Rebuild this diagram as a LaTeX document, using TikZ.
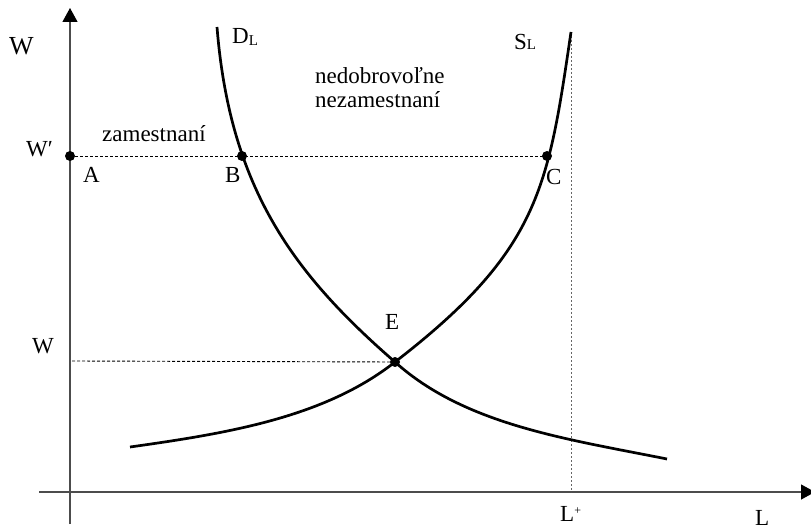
\documentclass[tikz,border=0pt]{standalone}
\usepackage{fontspec}
\setmainfont{Liberation Serif}
\usetikzlibrary{arrows.meta}
\begin{document}
\begin{tikzpicture}[x=1pt,y=-1pt,
  lbl/.style={anchor=base west,inner sep=0pt,font=\fontsize{23}{25}\selectfont},
  axisline/.style={draw=black!70,line width=1.2pt},
  tip/.style={-{Triangle[length=14pt,width=15pt,color=black]}},
  curve/.style={line width=2.7pt,line join=round},
  guide/.style={line width=0.9pt,dash pattern=on 3pt off 2pt},
  vguide/.style={line width=0.9pt,draw=black!60,dash pattern=on 2pt off 2pt},
  pt/.style={circle,fill=black,inner sep=0pt,minimum size=10pt}]
\useasboundingbox (0,0) rectangle (811,529);
\clip (0,0) rectangle (811,529);
% axes
\coordinate (yb) at (70,524);
\coordinate (yt) at (70,8);
\coordinate (xl) at (39,492);
\coordinate (xr) at (815,492);
\draw[axisline,tip] (yb) -- (yt);
\draw[axisline,tip] (xl) -- (xr);
% points
\coordinate (A) at (70,156);
\coordinate (B) at (242,156);
\coordinate (C) at (547,156);
\coordinate (E) at (395,362);
\coordinate (WE) at (72,361);
\coordinate (Dtop) at (217,27);
\coordinate (Dend) at (667,459);
\coordinate (Sstart) at (130,447);
\coordinate (Stop) at (571,32);
\coordinate (Lb) at (571,492);
% guides
\draw[guide] (A) -- (C);
\draw[guide] (WE) -- (E);
\draw[vguide] (Stop) -- (Lb);
% demand curve
\draw[curve] (Dtop) .. controls (230,190) and (295,275) .. (E)
                    .. controls (465,425) and (567,439) .. (Dend);
% supply curve
\draw[curve] (Sstart) .. controls (230,433) and (325,417) .. (E)
                      .. controls (540,250) and (548,188) .. (Stop);
% dots
\node[pt] (dA) at (A) {};
\node[pt] (dB) at (B) {};
\node[pt] (dC) at (C) {};
\node[pt] (dE) at (E) {};
% labels
\node[lbl,font=\fontsize{26}{28}\selectfont] (lW) at (9,55) {W};
\node[lbl] (lD) at (232,44) {D\raisebox{-2pt}{\fontsize{15}{15}\selectfont L}};
\node[lbl] (lS) at (514,50) {S\fontsize{15}{15}\selectfont L};
\node[lbl] (lWp) at (26,157) {W′};
\node[lbl] (lz) at (102,142) {zamestnaní};
\node[lbl,align=left,anchor=base west] (ln) at (315,108) {nedobrovoľne\\[-1pt]nezamestnaní};
\node[lbl] (lA) at (83,183) {A};
\node[lbl] (lB) at (225,183) {B};
\node[lbl] (lC) at (546,185) {C};
\node[lbl] (lE) at (385,330) {E};
\node[lbl] (lW2) at (32,353) {W};
\node[lbl] (lLp) at (560,521) {L\raisebox{7pt}{\fontsize{12}{12}\selectfont +}};
\node[lbl] (lL) at (755,525) {L};
\end{tikzpicture}
\end{document}
